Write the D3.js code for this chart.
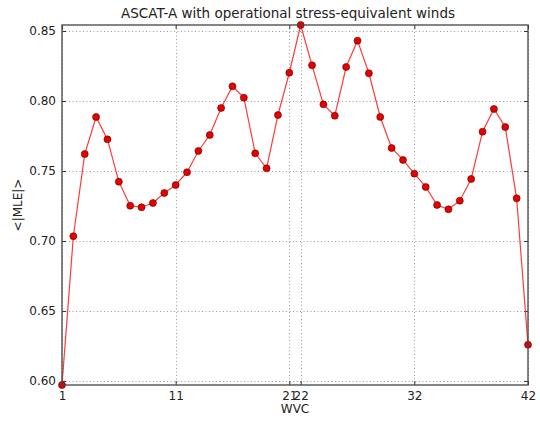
<!DOCTYPE html>
<html>
<head>
<meta charset="utf-8">
<script src="https://cdn.jsdelivr.net/npm/d3@7"></script>
<style>
  html, body { margin: 0; padding: 0; background: #fff; }
  svg { display: block; font-family: "DejaVu Sans", sans-serif; }
</style>
</head>
<body>
<svg id="chart" width="540" height="423"></svg>
<script>
// Wind vector cell index and mean |MLE| per cell
const wvc = d3.range(1, 43);
const mle = [
  0.5971, 0.7034, 0.7621, 0.7886, 0.7726, 0.7424, 0.7252, 0.7241, 0.7271, 0.7343,
  0.7400, 0.7491, 0.7643, 0.7757, 0.7950, 0.8105, 0.8024, 0.7626, 0.7519, 0.7900,
  0.8202, 0.8543, 0.8255, 0.7976, 0.7895, 0.8243, 0.8431, 0.8198, 0.7886, 0.7664,
  0.7579, 0.7481, 0.7386, 0.7257, 0.7226, 0.7288, 0.7443, 0.7781, 0.7943, 0.7814,
  0.7305, 0.6259
];
const xTicks = [1, 11, 21, 22, 32, 42];
const yTicks = [0.60, 0.65, 0.70, 0.75, 0.80, 0.85];

const titleText = "ASCAT-A with operational stress-equivalent winds";
const xLabel = "WVC";
const yLabel = "<|MLE|>";

const svg = d3.select("#chart");
const L = 62, R = 528, T = 25, B = 385;

const x = d3.scaleLinear().domain([1, 42]).range([L, R]);
const y = d3.scaleLinear().domain([d3.min(mle), d3.max(mle)]).range([B, T]);

// grid
const grid = svg.append("g").attr("stroke", "#9a9a9a").attr("stroke-width", 1)
  .attr("stroke-dasharray", "1,2.5");
grid.selectAll(".gx").data(xTicks).join("line")
  .attr("x1", d => Math.round(x(d)) + 0.5).attr("x2", d => Math.round(x(d)) + 0.5)
  .attr("y1", T).attr("y2", B);
grid.selectAll(".gy").data(yTicks).join("line")
  .attr("y1", d => Math.round(y(d)) + 0.5).attr("y2", d => Math.round(y(d)) + 0.5)
  .attr("x1", L).attr("x2", R);

// axes with inward ticks on all sides
const tickLen = 4;
const axBottom = svg.append("g").attr("transform", `translate(0,${B})`)
  .call(d3.axisBottom(x).tickValues(xTicks).tickFormat(d3.format("d")).tickSizeInner(-tickLen).tickSizeOuter(0).tickPadding(6));
const axTop = svg.append("g").attr("transform", `translate(0,${T})`)
  .call(d3.axisTop(x).tickValues(xTicks).tickFormat("").tickSizeInner(-tickLen).tickSizeOuter(0));
const axLeft = svg.append("g").attr("transform", `translate(${L},0)`)
  .call(d3.axisLeft(y).tickValues(yTicks).tickFormat(d3.format(".2f")).tickSizeInner(-tickLen).tickSizeOuter(0).tickPadding(6));
const axRight = svg.append("g").attr("transform", `translate(${R},0)`)
  .call(d3.axisRight(y).tickValues(yTicks).tickFormat("").tickSizeInner(-tickLen).tickSizeOuter(0));

[axBottom, axTop, axLeft, axRight].forEach(a => {
  a.select(".domain").remove();
  a.selectAll(".tick line").attr("stroke", "#333");
  a.selectAll("text").attr("fill", "#222").style("font-size", "12px")
    .style("font-family", "'DejaVu Sans', sans-serif");
});

// line + markers
svg.append("path").datum(mle)
  .attr("fill", "none").attr("stroke", "#ff3b3b").attr("stroke-width", 1.2)
  .attr("d", d3.line().x((d, i) => x(wvc[i])).y(d => y(d)));

svg.append("g").selectAll("circle").data(mle).join("circle")
  .attr("cx", (d, i) => x(wvc[i])).attr("cy", d => y(d)).attr("r", 3.5)
  .attr("fill", "#e60000").attr("stroke", "#5a0000").attr("stroke-width", 0.6);

// frame
svg.append("rect").attr("x", L).attr("y", T).attr("width", R - L).attr("height", B - T)
  .attr("fill", "none").attr("stroke", "#444").attr("stroke-width", 1.3);

// labels
svg.append("text").attr("x", 288).attr("y", 18).attr("text-anchor", "middle")
  .attr("fill", "#222").style("font-size", "13.5px").text(titleText);
svg.append("text").attr("x", (L + R) / 2).attr("y", 413).attr("text-anchor", "middle")
  .attr("fill", "#222").style("font-size", "12px").text(xLabel);
svg.append("text").attr("transform", `translate(22,${(T + B) / 2}) rotate(-90)`)
  .attr("text-anchor", "middle").attr("fill", "#222").style("font-size", "12px").text(yLabel);
</script>
</body>
</html>
